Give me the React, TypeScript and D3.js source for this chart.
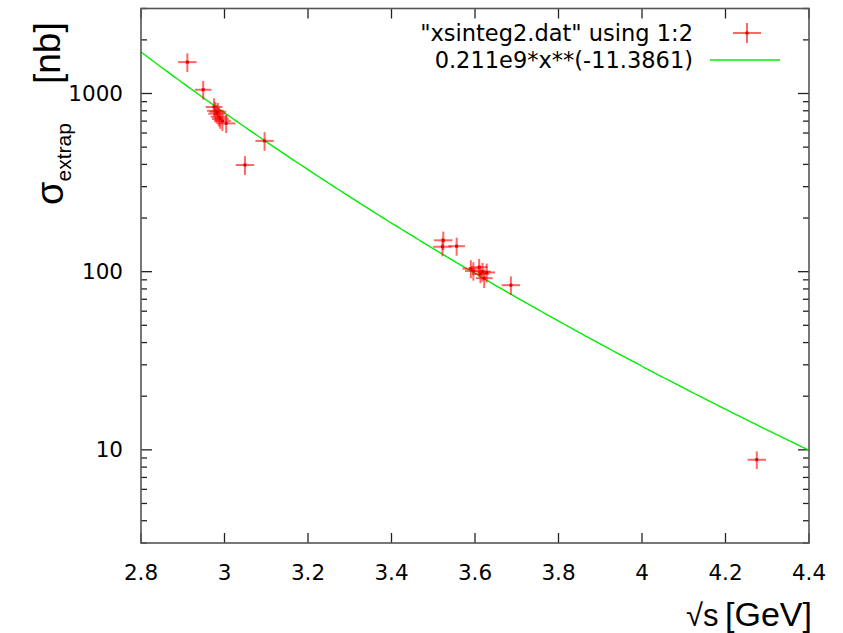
import React from "react";
import * as d3 from "d3";

const xVals = [2.911, 2.949, 2.975, 2.978, 2.981, 2.984, 2.987, 2.99, 2.995, 3.004, 3.049, 3.096, 3.522, 3.524, 3.556, 3.59, 3.596, 3.61, 3.613, 3.618, 3.622, 3.628, 3.686, 4.275];
const yVals = [1500, 1050, 840, 800, 770, 790, 740, 720, 700, 680, 397, 542, 138, 150, 139, 104, 101, 106, 97, 100, 92, 99, 84, 8.8];
const xErrs = [0.022, 0.02, 0.02, 0.02, 0.02, 0.02, 0.02, 0.02, 0.02, 0.022, 0.022, 0.022, 0.022, 0.022, 0.02, 0.02, 0.02, 0.02, 0.02, 0.02, 0.02, 0.02, 0.022, 0.022];
const yErrs = [180, 125, 100, 95, 92, 95, 88, 86, 84, 80, 48, 65, 16, 18, 16, 12, 12, 12, 11, 12, 11, 12, 10, 1.0];

const xTicks = [2.8, 3, 3.2, 3.4, 3.6, 3.8, 4, 4.2, 4.4];
const yTicks = [10, 100, 1000];
const yMinor = [3, 4, 5, 6, 7, 8, 9, 20, 30, 40, 50, 60, 70, 80, 90, 200, 300, 400, 500, 600, 700, 800, 900, 2000, 3000];

const fitA = 0.211e9;
const fitB = -11.3861;
const legendData = '"xsinteg2.dat" using 1:2';
const legendFit = "0.211e9*x**(-11.3861)";

const L = 141, R = 809, T = 8.5, B = 543;

export default function App() {
  const x = d3.scaleLinear().domain([2.8, 4.4]).range([L, R]);
  const y = d3.scaleLog().domain([3, 3000]).range([B, T]);
  const fitPts = d3.range(0, 201).map((i) => 2.8 + (1.6 * i) / 200);
  const line = d3
    .line<number>()
    .x((d) => x(d))
    .y((d) => y(fitA * Math.pow(d, fitB)));
  const tickFont = "'DejaVu Sans', sans-serif";
  const labelFont = "'Liberation Sans', Arial, sans-serif";
  const red = "#ff0000";
  return (
    <svg width={843} height={633} style={{ position: "absolute", left: 0, top: 0 }}>
      <rect x={0} y={0} width={843} height={633} fill="#fff" />
      {xTicks.map((t) => (
        <g key={"xt" + t}>
          <line x1={x(t)} x2={x(t)} y1={B} y2={B - 10} stroke="#222" strokeWidth={1.3} />
          <line x1={x(t)} x2={x(t)} y1={T} y2={T + 10} stroke="#222" strokeWidth={1.3} />
          <text x={x(t)} y={580} fontFamily={tickFont} fontSize={21.5} textAnchor="middle" fill="#000">
            {d3.format("")(t)}
          </text>
        </g>
      ))}
      {yTicks.map((t) => (
        <g key={"yt" + t}>
          <line x1={L} x2={L + 11} y1={y(t)} y2={y(t)} stroke="#222" strokeWidth={1.3} />
          <line x1={R} x2={R - 11} y1={y(t)} y2={y(t)} stroke="#222" strokeWidth={1.3} />
          <text x={123} y={y(t) + 7.5} fontFamily={tickFont} fontSize={21.5} textAnchor="end" fill="#000">
            {t}
          </text>
        </g>
      ))}
      {yMinor.map((t) => (
        <g key={"ym" + t}>
          <line x1={L} x2={L + 6} y1={y(t)} y2={y(t)} stroke="#222" strokeWidth={1.3} />
          <line x1={R} x2={R - 6} y1={y(t)} y2={y(t)} stroke="#222" strokeWidth={1.3} />
        </g>
      ))}
      <path d={line(fitPts) || ""} fill="none" stroke="#00ee00" strokeWidth={1.4} />
      {xVals.map((xv, i) => {
        const yv = yVals[i];
        const cx = x(xv), cy = y(yv);
        return (
          <g key={"p" + i}>
            <line x1={x(xv - xErrs[i])} x2={x(xv + xErrs[i])} y1={cy} y2={cy} stroke={red} strokeOpacity={0.6} strokeWidth={2} />
            <line x1={cx} x2={cx} y1={y(yv - yErrs[i])} y2={y(yv + yErrs[i])} stroke={red} strokeOpacity={0.6} strokeWidth={2} />
            <rect x={cx - 1.5} y={cy - 1.5} width={3} height={3} fill="#e00000" />
          </g>
        );
      })}
      <rect x={L} y={T} width={R - L} height={B - T} fill="none" stroke="#555" strokeWidth={1.6} />
      <text x={693} y={40.5} fontFamily={tickFont} fontSize={22.5} textAnchor="end" fill="#000">
        {legendData}
      </text>
      <line x1={733} x2={761} y1={33} y2={33} stroke={red} strokeOpacity={0.6} strokeWidth={2} />
      <line x1={747} x2={747} y1={23} y2={43} stroke={red} strokeOpacity={0.6} strokeWidth={2} />
      <rect x={745.5} y={31.5} width={3} height={3} fill="#e00000" />
      <text x={693} y={67.5} fontFamily={tickFont} fontSize={22.5} textAnchor="end" fill="#000">
        {legendFit}
      </text>
      <line x1={710} x2={780} y1={60} y2={60} stroke="#00ee00" strokeWidth={1.4} />
      <text x={686} y={626} fontFamily={labelFont} fontSize={31} fill="#000">
        √s
      </text>
      <text x={812} y={626} fontFamily={labelFont} fontSize={34} textAnchor="end" fill="#000">
        [GeV]
      </text>
      <text transform="translate(63,205) rotate(-90)" fontFamily={labelFont} fontSize={38} fill="#000">
        σ
        <tspan fontSize={21} dy={8}>extrap</tspan>
      </text>
      <text transform="translate(60,84) rotate(-90)" fontFamily={labelFont} fontSize={37} fill="#000">
        [nb]
      </text>
    </svg>
  );
}
